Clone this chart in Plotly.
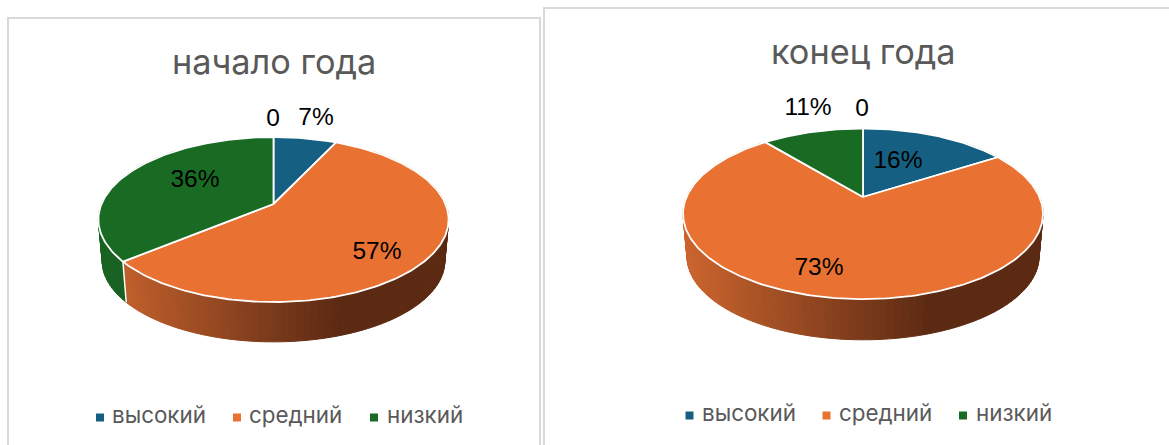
import math
import plotly.graph_objects as go

# ---- data ----
categories = ["высокий", "средний", "низкий"]
start_values = [7, 57, 36, 0]
end_values = [16, 73, 11, 0]
start_labels = ["7%", "57%", "36%", "0"]
end_labels = ["16%", "73%", "11%", "0"]
titles = ["начало года", "конец года"]

# ---- style and layout ----
COLORS = ["#156082", "#E97132", "#196B24", "#A02B93"]
SIDE_LIGHT = [(21, 87, 118), (204, 101, 46), (24, 98, 34), (21, 87, 118)]
SIDE_DARK = [(10, 42, 57), (92, 42, 19), (22, 90, 32), (10, 42, 57)]
TITLE_FONT = "Inter"
LEGEND_FONT = "Inter"
LABEL_FONT = "Liberation Sans"
W, H = 1169, 445

CHARTS = [
    dict(values=start_values, labels=start_labels, title=titles[0],
         cx=273.5, cy=204.0, a=172.0, b=79.6, k=0.188, depth=42.0, shrink=0.978,
         title_xy=(274, 61.5),
         label_xy=[(316, 119), (377, 253), (195, 181), (273, 120)],
         key_x=[100, 237, 374], text_x=[112, 249, 387], legend_y=417.5),
    dict(values=end_values, labels=end_labels, title=titles[1],
         cx=863.0, cy=197.0, a=176.5, b=82.0, k=0.1965, depth=43.0, shrink=0.978,
         title_xy=(863.5, 51),
         label_xy=[(898, 162), (819, 269), (808, 109), (862, 110)],
         key_x=[689.5, 826.5, 963], text_x=[702, 839, 976], legend_y=415.5),
]


def project(c, theta, lower=False):
    """Perspective view of a point on the rim (radius 1) or at the centre."""
    return project_r(c, theta, 1.0, lower)


def project_r(c, theta, r, lower=False):
    u = r * math.sin(theta)
    v = -r * math.cos(theta)
    w = 1 - c["k"] * v
    x = c["a"] * u / w
    y = c["b"] * v / w
    if lower:
        return c["cx"] + x * c["shrink"], c["cy"] + c["depth"] + y * c["shrink"]
    return c["cx"] + x, c["cy"] + y


def mix(p, q, t):
    return "rgb(%d,%d,%d)" % tuple(round(p[i] + (q[i] - p[i]) * t) for i in range(3))


def add_chart(fig, c):
    total = sum(c["values"])
    width = 2 * c["a"] / math.sqrt(1 - c["k"] ** 2)
    left = c["cx"] - width / 2

    # side wall
    start = 0.0
    edges = []
    for i, val in enumerate(c["values"]):
        end = start + val / total * 2 * math.pi
        edges.append((start, end))
        start = end

    seams = []
    for i, (t0, t1) in enumerate(edges):
        if t1 <= t0:
            continue
        n = max(2, int((t1 - t0) / math.radians(2.0)))
        quads = []
        for j in range(n):
            a0 = t0 + (t1 - t0) * j / n
            a1 = t0 + (t1 - t0) * (j + 1) / n
            if math.cos((a0 + a1) / 2) > 0.75:
                continue
            quads.append((a0, a1))
        quads.sort(key=lambda q: -math.cos((q[0] + q[1]) / 2))
        for a0, a1 in quads:
            p0, p1 = project(c, a0), project(c, a1)
            q0, q1 = project(c, a0, True), project(c, a1, True)
            tx = min(1.0, max(0.0, ((p0[0] + p1[0]) / 2 - left) / (0.68 * width)))
            col = mix(SIDE_LIGHT[i], SIDE_DARK[i], tx)
            fig.add_trace(go.Scatter(
                x=[p0[0], p1[0], q1[0], q0[0], p0[0]],
                y=[p0[1], p1[1], q1[1], q0[1], p0[1]],
                mode="lines", fill="toself", fillcolor=col,
                line=dict(color=col, width=1), hoverinfo="skip", showlegend=False))
        if math.cos(t1) < 0 and t1 < 2 * math.pi - 1e-6:
            seams.append(t1)
    for t in seams:
        p, q = project(c, t), project(c, t, True)
        fig.add_trace(go.Scatter(x=[p[0], q[0]], y=[p[1], q[1]], mode="lines",
                                 line=dict(color="white", width=1.5),
                                 hoverinfo="skip", showlegend=False))

    # top face
    for i, (t0, t1) in enumerate(edges):
        if t1 <= t0:
            continue
        n = max(4, int((t1 - t0) / math.radians(1.0)))
        pts = [project_r(c, 0, 0)]
        pts += [project(c, t0 + (t1 - t0) * j / n) for j in range(n + 1)]
        pts.append(pts[0])
        fig.add_trace(go.Scatter(
            x=[p[0] for p in pts], y=[p[1] for p in pts], mode="lines",
            fill="toself", fillcolor=COLORS[i], line=dict(color="white", width=1.8),
            name=categories[i] if i < len(categories) else "", hoverinfo="skip",
            showlegend=False))

    # data labels
    for txt, (x, y) in zip(c["labels"], c["label_xy"]):
        fig.add_trace(go.Scatter(x=[x], y=[y], mode="text", text=[txt],
                                 textposition="middle center",
                                 textfont=dict(family=LABEL_FONT, size=24.5, color="#000000"),
                                 hoverinfo="skip", showlegend=False))

    # legend
    for i, cat in enumerate(categories):
        fig.add_trace(go.Scatter(x=[c["key_x"][i]], y=[c["legend_y"]], mode="markers",
                                 marker=dict(symbol="square", size=8, color=COLORS[i]),
                                 name=cat, hoverinfo="skip", showlegend=False))
        fig.add_trace(go.Scatter(x=[c["text_x"][i]], y=[c["legend_y"]], mode="text",
                                 text=[cat], textposition="middle right",
                                 textfont=dict(family=LEGEND_FONT, size=22.4, color="#595959"),
                                 hoverinfo="skip", showlegend=False))

    # title
    fig.add_annotation(x=c["title_xy"][0], y=c["title_xy"][1], text=c["title"],
                       showarrow=False, xanchor="center", yanchor="middle",
                       font=dict(family=TITLE_FONT, size=34.3, color="#595959"))


fig = go.Figure()
for chart in CHARTS:
    add_chart(fig, chart)

FRAME = "#D9D9D9"
shapes = [
    dict(type="path", path="M 8 445 L 8 18 L 540 18 L 540 445", line=dict(color=FRAME, width=2)),
    dict(type="path", path="M 544 445 L 544 8 L 1169 8", line=dict(color=FRAME, width=2)),
]
fig.update_layout(
    width=W, height=H, margin=dict(l=0, r=0, t=0, b=0),
    paper_bgcolor="white", plot_bgcolor="white", showlegend=False, shapes=shapes,
    xaxis=dict(range=[0, W], visible=False, fixedrange=True),
    yaxis=dict(range=[H, 0], visible=False, fixedrange=True),
)
fig.write_html("out.html", config=dict(displayModeBar=False, responsive=False),
               post_script="document.body.style.margin='0';document.body.style.overflow='hidden';")
